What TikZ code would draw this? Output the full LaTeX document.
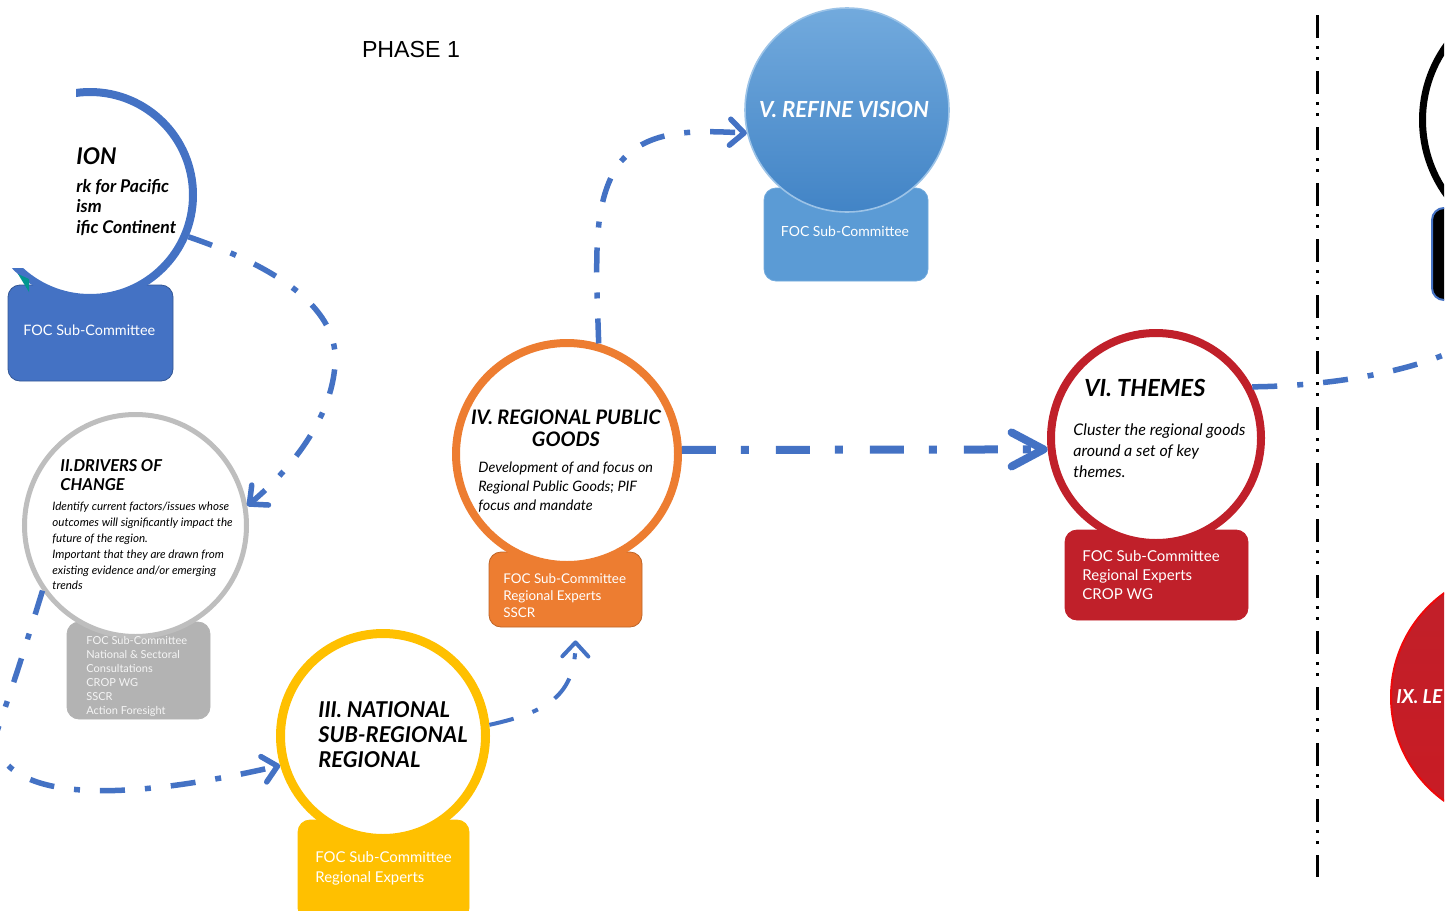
\documentclass[tikz,border=0pt]{standalone}
\usepackage{fontspec}
\setmainfont{Lato}
\newfontfamily\phasefont{Liberation Sans}
\usetikzlibrary{arrows.meta,positioning,shapes}

\definecolor{flowblue}{HTML}{4472C4}
\definecolor{ringgray}{HTML}{BEBEBE}
\definecolor{boxgray}{HTML}{B3B3B3}
\definecolor{gold}{HTML}{FFC000}
\definecolor{rpgorange}{HTML}{ED7D31}
\definecolor{skyblue}{HTML}{5B9BD5}
\definecolor{skytop}{HTML}{72AADD}
\definecolor{skybottom}{HTML}{4284C6}
\definecolor{themered}{HTML}{C0202A}
\definecolor{tealmark}{HTML}{00968F}

\begin{document}
\begin{tikzpicture}
[x=0.5pt, y=-0.5pt,
    stagering/.style={circle,draw=#1,fill=white,line width=4pt,inner sep=0pt},
    stagebox/.style={rectangle,rounded corners=6pt,inner sep=0pt,draw=#1,fill=#1},
    stagehead/.style={inner sep=0pt,align=left},
    stagenote/.style={inner sep=0pt,align=left},
    stagecrew/.style={text=white,inner sep=0pt,align=left},
    flowline/.style={draw=flowblue,line width=2.75pt,dash pattern=on 12.5pt off 10pt on 3pt off 10pt},
    flowtip/.style={-{Straight Barb[length=7pt,width=13pt,round]}},
    bigtip/.style={-{Straight Barb[length=16pt,width=17pt,round]}}]

    \useasboundingbox (0,0) rectangle (1455,910);
    \clip (0,0) rectangle (1444,910);

    % boxes under the circles
    \node[stagebox=flowblue, draw=flowblue!75!black, minimum width=82.5pt, minimum height=48pt] (visionbox) at (90.5,333) {};
    \node[stagebox=boxgray, minimum width=71.5pt, minimum height=48.5pt] (driversbox) at (138.5,670.5) {};
    \node[stagebox=gold, minimum width=85.5pt, minimum height=50pt] (nationalbox) at (383.5,870) {};
    \node[stagebox=rpgorange, draw=rpgorange!80!black, minimum width=76.5pt, minimum height=37.5pt] (rpgbox) at (565.5,589.5) {};
    \node[stagebox=skyblue, draw=skytop, minimum width=82pt, minimum height=46.5pt] (refinebox) at (846,234.5) {};
    \node[stagebox=themered, minimum width=91.5pt, minimum height=45pt] (themesbox) at (1156.5,575) {};
    \node[stagebox=black, draw=flowblue, line width=1pt, minimum width=84pt, minimum height=46pt] (nextbox) at (1516,254) {};

    % circles
    \node[stagering=flowblue, minimum size=103pt] (vision) at (90,195) {};
    \node[stagering=ringgray, line width=2.5pt, minimum size=111pt] (drivers) at (135.5,525.5) {};
    \node[stagering=gold, line width=4.5pt, minimum size=102.5pt] (national) at (383,736) {};
    \node[stagering=rpgorange, minimum size=111pt] (rpg) at (567,454) {};
    \node[circle, inner sep=0pt, minimum size=102pt, top color=skytop, bottom color=skybottom, draw=skytop!70!white, line width=0.8pt] (refine) at (847,110) {};
    \node[stagering=themered, minimum size=105pt] (themes) at (1156,438) {};
    \node[stagering=black, line width=3.5pt, minimum size=127.5pt] (nextstage) at (1550,120) {};
    \node[circle, inner sep=0pt, minimum size=128pt, top color=themered, bottom color=themered!85!red, draw=red!75!themered, line width=1pt] (lessons) at (1519,697) {};

    % texts
    \node[font=\phasefont\fontsize{11.6}{13}\selectfont] (phase) at (411,50) {PHASE 1};

    \node[stagehead, font=\bfseries\itshape\fontsize{11.5}{13}\selectfont, anchor=west] (visiontitle) at (76,156) {ION};
    \node[stagehead, font=\bfseries\itshape\fontsize{8.8}{10.25}\selectfont, anchor=north west] (visiontext) at (76,179) {rk for Pacific\\ism\\ific Continent};
    \fill[white] (-5,60) rectangle (75.5,268);
    \fill[tealmark] (18,274) -- (29,279) -- (29,292) -- cycle;
    \node[stagecrew, font=\fontsize{7.2}{9}\selectfont, anchor=west] (visioncrew) at (23,330) {FOC Sub-Committee};

    \node[stagehead, font=\bfseries\itshape\fontsize{8.2}{9.5}\selectfont, anchor=north west] (driverstitle) at (60,459) {II.DRIVERS OF\\CHANGE};
    \node[stagenote, font=\itshape\fontsize{5.8}{7.9}\selectfont, anchor=north west] (driverstext) at (52,502) {Identify current factors/issues whose\\outcomes will significantly impact the\\future of the region.\\Important that they are drawn from\\existing evidence and/or emerging\\trends};
    \node[stagecrew, text=white!92!gray, font=\fontsize{5.5}{7}\selectfont, anchor=north west] (driverscrew) at (86,636) {FOC Sub-Committee\\National \& Sectoral\\Consultations\\CROP WG\\SSCR\\Action Foresight};

    \node[stagehead, font=\bfseries\itshape\fontsize{10.9}{12.5}\selectfont, anchor=north west] (nationaltitle) at (318,701) {III. NATIONAL\\SUB-REGIONAL\\REGIONAL};
    \node[stagecrew, font=\fontsize{7.45}{10}\selectfont, anchor=north west] (nationalcrew) at (315,851) {FOC Sub-Committee\\Regional Experts};

    \node[stagehead, align=center, font=\bfseries\itshape\fontsize{10}{11}\selectfont, anchor=north] (rpgtitle) at (566,409) {IV. REGIONAL PUBLIC\\GOODS};
    \node[stagenote, font=\itshape\fontsize{7.2}{9.5}\selectfont, anchor=north west] (rpgtext) at (478,461) {Development of and focus on\\Regional Public Goods; PIF\\focus and mandate};
    \node[stagecrew, font=\fontsize{6.7}{8.5}\selectfont, anchor=north west] (rpgcrew) at (503,573) {FOC Sub-Committee\\Regional Experts\\SSCR};

    \node[stagehead, text=white, font=\bfseries\itshape\fontsize{11.1}{13}\selectfont] (refinetitle) at (844,109) {V. REFINE VISION};
    \node[stagecrew, font=\fontsize{7}{9}\selectfont] (refinecrew) at (845,231) {FOC Sub-Committee};

    \node[stagehead, font=\bfseries\itshape\fontsize{11.8}{13}\selectfont, anchor=west] (themestitle) at (1084,388) {VI. THEMES};
    \node[stagenote, font=\itshape\fontsize{8}{10.5}\selectfont, anchor=north west] (themestext) at (1073,423) {Cluster the regional goods\\around a set of key\\themes.};
    \node[stagecrew, font=\fontsize{7.5}{9.5}\selectfont, anchor=north west] (themescrew) at (1082,550) {FOC Sub-Committee\\Regional Experts\\CROP WG};

    \node[stagehead, text=white, font=\bfseries\itshape\fontsize{9.6}{11}\selectfont, anchor=west] (lessonstitle) at (1396,697) {IX. LE};

    % phase divider
    \draw[line width=1.5pt, dash pattern=on 11.5pt off 4pt on 1.5pt off 4pt on 1.5pt off 5.5pt] (1317,15) -- (1317,877);

    % flow between the stages
    \coordinate (offleft) at (-6,740);
    \coordinate (offright) at (1475,340);
    \draw[flowline, flowtip] (vision.-23) .. controls (280,268) and (340,310) .. (335,365) .. controls (331,420) and (290,470) .. (drivers.10);
    \draw[flowline, flowtip] (drivers.215) .. controls (18,670) .. (offleft) .. controls (8,805) and (130,800) .. (national.196);
    \draw[flowline, line width=2pt, flowtip] (national.6) .. controls (548,712) and (575,695) .. ([xshift=5pt,yshift=-6.5pt]rpgbox.south);
    \draw[flowline, flowtip] (rpg.74) .. controls (596,260) and (592,205) .. (618,165) .. controls (645,130) and (690,130) .. (refine.193);
    \draw[flowline, line width=4pt, dash pattern=on 17pt off 12.5pt on 4pt off 13.5pt, bigtip] (rpg.2) -- (themes.186);
    \draw[flowline] (themes.28) .. controls (1330,386) and (1420,372) .. (offright);
\end{tikzpicture}
\end{document}
